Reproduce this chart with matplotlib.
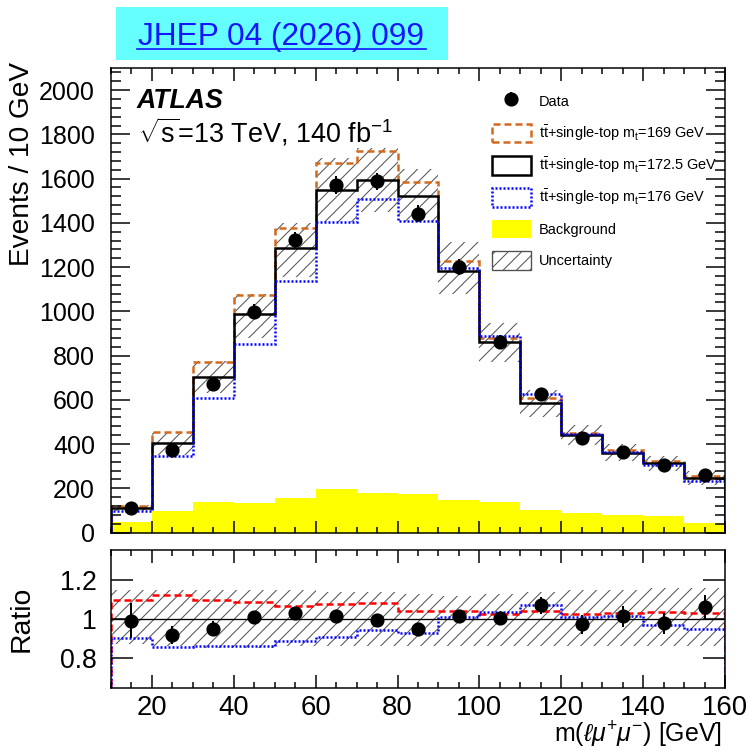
"""
Top-quark mass sensitivity of the m(l mu mu) spectrum: data vs. ttbar+single-top
predictions for three m_t hypotheses, with a ratio panel underneath.
"""

import matplotlib

matplotlib.use("Agg")
import matplotlib.pyplot as plt
import numpy as np
from matplotlib.lines import Line2D
from matplotlib.patches import Patch, Rectangle
from matplotlib.ticker import FixedLocator, MultipleLocator

plt.rcParams["font.family"] = ["Liberation Sans", "DejaVu Sans"]
plt.rcParams["mathtext.fontset"] = "custom"
plt.rcParams["mathtext.rm"] = "Liberation Sans"
plt.rcParams["mathtext.it"] = "Liberation Sans:italic"
plt.rcParams["mathtext.bf"] = "Liberation Sans:bold"
plt.rcParams["hatch.linewidth"] = 0.6
plt.rcParams["lines.scale_dashes"] = False

# binning in m(l mu+ mu-) [GeV]
bin_edges = [10, 20, 30, 40, 50, 60, 70, 80, 90, 100, 110, 120, 130, 140, 150, 160]
bin_centers = [15, 25, 35, 45, 55, 65, 75, 85, 95, 105, 115, 125, 135, 145, 155]

# events / 10 GeV
data = [109, 373, 670, 999, 1323, 1572, 1587, 1441, 1200, 863, 625, 429, 366, 305, 261]
data_err = [10, 19, 26, 32, 36, 40, 40, 38, 35, 29, 25, 21, 19, 17, 16]
pred_mt169 = [121, 456, 773, 1074, 1375, 1670, 1723, 1583, 1228, 880, 607, 452, 373, 323, 254]
pred_mt1725 = [110, 406, 705, 989, 1286, 1547, 1595, 1520, 1180, 859, 584, 441, 361, 312, 246]
pred_mt176 = [99, 348, 607, 851, 1139, 1402, 1508, 1410, 1195, 890, 627, 446, 366, 303, 233]
background = [46, 97, 138, 133, 156, 195, 180, 173, 149, 138, 102, 88, 79, 76, 41]

# total uncertainty on the nominal prediction (up / down), events
unc_up = [16, 50, 70, 90, 115, 145, 145, 125, 135, 87, 60, 45, 37, 32, 30]
unc_dn = [14, 55, 75, 110, 130, 145, 145, 115, 100, 87, 60, 45, 37, 32, 30]

# relative uncertainty band shown in the ratio panel
ratio_unc_up = [0.15, 0.15, 0.15, 0.15, 0.15, 0.14, 0.14, 0.13, 0.12, 0.13, 0.14, 0.15, 0.15, 0.16, 0.16]
ratio_unc_dn = [0.13, 0.14, 0.15, 0.15, 0.14, 0.14, 0.14, 0.14, 0.14, 0.14, 0.14, 0.14, 0.14, 0.14, 0.14]

ORANGE = "#d2691e"
BLUE = "#0000ff"
YELLOW = "#ffff00"
HATCH = "#505050"
DASHED = (0, (4.2, 2.4))
DOTTED = (0, (1.2, 1.2))

DPI = 120
W, H = 749, 751


def fx(px):
    return px / W


def fy(py):
    return 1 - py / H


fig = plt.figure(figsize=(W / DPI, H / DPI), dpi=DPI)
ax = fig.add_axes([fx(111), fy(532.5), fx(725) - fx(111), fy(68) - fy(532.5)])
rax = fig.add_axes([fx(111), fy(688), fx(725) - fx(111), fy(550) - fy(688)], sharex=ax)

nominal = np.array(pred_mt1725, dtype=float)
band_hi = nominal + np.array(unc_up)
band_lo = nominal - np.array(unc_dn)

# ---- main panel
ax.stairs(background, bin_edges, fill=True, color=YELLOW, linewidth=0)
ax.stairs(band_hi, bin_edges, baseline=band_lo, fill=True, facecolor="none",
          edgecolor=HATCH, linewidth=0, hatch="///")
ax.stairs(pred_mt169, bin_edges, baseline=0, color=ORANGE, linestyle=DASHED, linewidth=1.5)
ax.stairs(pred_mt1725, bin_edges, baseline=0, color="black", linewidth=1.5)
ax.stairs(pred_mt176, bin_edges, baseline=0, color=BLUE, linestyle=DOTTED, linewidth=1.5)
data_handle = ax.errorbar(bin_centers, data, yerr=data_err, fmt="o", color="black",
                          markersize=7.5, elinewidth=1.2, capsize=0)

ax.set_xlim(10, 160)
ax.set_ylim(0, 2100)
ax.yaxis.set_major_locator(MultipleLocator(200))
ax.yaxis.set_minor_locator(MultipleLocator(40))
ax.xaxis.set_major_locator(MultipleLocator(20))
ax.xaxis.set_minor_locator(MultipleLocator(5))
ax.tick_params(which="both", direction="in", top=True, right=True, labelbottom=False, width=0.9)
ax.tick_params(axis="y", which="major", length=11.4, labelsize=15, pad=9.6)
ax.tick_params(axis="y", which="minor", length=6)
ax.tick_params(axis="x", which="major", length=7.5)
ax.tick_params(axis="x", which="minor", length=3.8)
for spine in ax.spines.values():
    spine.set_linewidth(0.9)
ax.set_ylabel("Events / 10 GeV", fontsize=16.8, loc="top", va="center")
ax.yaxis.set_label_coords((22 - 111) / 614, 1.0 + 6 / 464.5)
fig.canvas.draw()
ax.yaxis.get_major_ticks()[0].label1.set_va("bottom")

ax.text(fx(137), fy(108), "ATLAS", transform=fig.transFigure, fontsize=16,
        fontweight="bold", fontstyle="italic", va="baseline")
ax.text(fx(138), fy(143), r"$\sqrt{\mathrm{s}}$=13 TeV, 140 fb$^{\mathrm{-1}}$",
        transform=fig.transFigure, fontsize=16.2, va="baseline")

legend_handles = [
    data_handle,
    Patch(facecolor="none", edgecolor=ORANGE, linestyle=DASHED, linewidth=1.5),
    Patch(facecolor="none", edgecolor="black", linewidth=1.5),
    Patch(facecolor="none", edgecolor=BLUE, linestyle=DOTTED, linewidth=1.5),
    Patch(facecolor=YELLOW, edgecolor="none"),
    Patch(facecolor="none", edgecolor=HATCH, hatch="///", linewidth=0.8),
]
legend_labels = [
    "Data",
    r"$\mathrm{t\bar{t}}$+single-top m$_{\mathrm{t}}$=169 GeV",
    r"$\mathrm{t\bar{t}}$+single-top m$_{\mathrm{t}}$=172.5 GeV",
    r"$\mathrm{t\bar{t}}$+single-top m$_{\mathrm{t}}$=176 GeV",
    "Background",
    "Uncertainty",
]
ax.legend(legend_handles, legend_labels, loc="upper left",
          bbox_to_anchor=((491.7 - 111) / 614, (532.5 - 92) / 464.5),
          frameon=False, fontsize=8.7, handlelength=2.69, handleheight=1.6,
          labelspacing=0.86, handletextpad=0.55, borderpad=0, borderaxespad=0)

# ---- ratio panel
rax.stairs(1 + np.array(ratio_unc_up), bin_edges, baseline=1 - np.array(ratio_unc_dn),
           fill=True, facecolor="none", edgecolor=HATCH, linewidth=0, hatch="///")
rax.stairs(np.array(pred_mt169) / nominal, bin_edges, baseline=0, color="red",
           linestyle=DASHED, linewidth=1.5)
rax.stairs(np.array(pred_mt176) / nominal, bin_edges, baseline=0, color=BLUE,
           linestyle=DOTTED, linewidth=1.5)
rax.axhline(1.0, color="black", linewidth=0.8)
rax.errorbar(bin_centers, np.array(data) / nominal, yerr=np.array(data_err) / nominal,
             fmt="o", color="black", markersize=7.5, elinewidth=1.2, capsize=0)

rax.set_ylim(0.645, 1.355)
rax.yaxis.set_major_locator(FixedLocator([0.8, 1.0, 1.2]))
rax.set_yticklabels(["0.8", "1", "1.2"])
rax.yaxis.set_minor_locator(FixedLocator([]))
rax.tick_params(which="both", direction="in", top=True, right=True, width=0.9)
rax.tick_params(axis="y", which="major", length=13, labelsize=16, pad=8.4)
rax.tick_params(axis="x", which="major", length=7.8, labelsize=16.5, pad=4)
rax.tick_params(axis="x", which="minor", length=3.5)
for spine in rax.spines.values():
    spine.set_linewidth(0.9)
rax.set_ylabel("Ratio", fontsize=17, va="center")
rax.yaxis.set_label_coords((22 - 111) / 614, 0.5)
rax.set_xlabel(r"m($\ell\mu^{+}\mu^{-}$) [GeV]", fontsize=15, loc="right", va="baseline")
rax.xaxis.set_label_coords((722 - 111) / 614, (688 - 743) / 138)

# ---- journal reference banner
fig.add_artist(Rectangle((fx(116), fy(60)), fx(448) - fx(116), fy(7) - fy(60),
                         transform=fig.transFigure, facecolor="#66ffff", edgecolor="none"))
fig.text(fx(281), fy(45), "JHEP 04 (2026) 099", ha="center", va="baseline",
         color="#1414ff", fontsize=19)
fig.add_artist(Line2D([fx(137), fx(426)], [fy(48.5), fy(48.5)], transform=fig.transFigure,
                      color="#1414ff", linewidth=1.0))

fig.savefig("out.png", dpi=DPI)
